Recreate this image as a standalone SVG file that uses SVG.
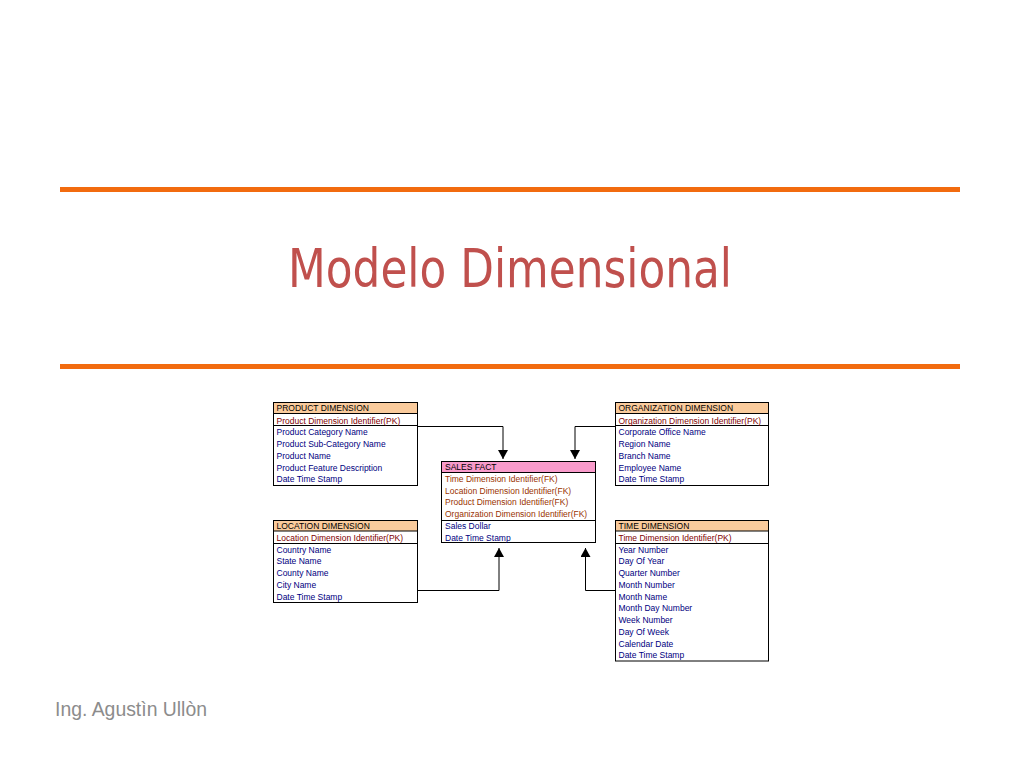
<svg xmlns="http://www.w3.org/2000/svg" width="1020" height="765" viewBox="0 0 1020 765">
<defs>
<style>
.t{font-family:"Liberation Sans",Arial,sans-serif;font-size:8.5px;}
.hd{fill:#000000;}
.pk{fill:#800000;}
.fk{fill:#993300;}
.at{fill:#000080;}
.box{fill:#ffffff;stroke:#000000;stroke-width:1;}
.oh{fill:#FACB9C;stroke:#000000;stroke-width:1;}
.ph{fill:#F99BCB;stroke:#000000;stroke-width:1;}
.sep{stroke:#000000;stroke-width:1;}
.con{fill:none;stroke:#000000;stroke-width:1;}
.rule{stroke:#F26B0F;stroke-width:5;}
</style>
<marker id="arr" markerWidth="10" markerHeight="10" refX="9" refY="5" orient="auto" markerUnits="userSpaceOnUse">
<path d="M0,0 L9,5 L0,10 Z" fill="#000000"/>
</marker>
</defs>
<rect width="1020" height="765" fill="#ffffff"/>
<line class="rule" x1="60" y1="189.5" x2="960" y2="189.5"/>
<line class="rule" x1="60" y1="366.5" x2="960" y2="366.5"/>
<text x="510" y="287" text-anchor="middle" font-family="'DejaVu Sans Condensed','DejaVu Sans',Verdana,sans-serif" font-size="53" fill="#C0504D" textLength="444" lengthAdjust="spacingAndGlyphs">Modelo Dimensional</text>
<text x="55" y="716" font-family="'Liberation Sans',Arial,sans-serif" font-size="19.4" fill="#8C8C8C">Ing. Agustìn Ullòn</text>

<g id="connectors">
<path class="con" d="M417.5,426.5 H503 V459" marker-end="url(#arr)"/>
<path class="con" d="M615.5,426.5 H575 V459" marker-end="url(#arr)"/>
<path class="con" d="M417.5,590.5 H499 V548" marker-end="url(#arr)"/>
<path class="con" d="M615.5,590.5 H585.5 V548" marker-end="url(#arr)"/>
</g>

<g id="product-dimension">
<rect class="box" x="273.5" y="402.5" width="144" height="83"/>
<rect class="oh" x="273.5" y="402.5" width="144" height="11"/>
<line class="sep" x1="273.5" y1="425.5" x2="417.5" y2="425.5"/>
<text class="t hd" x="276.5" y="411">PRODUCT DIMENSION</text>
<text class="t pk" x="276.5" y="423.5">Product Dimension Identifier(PK)</text>
<text class="t at" x="276.5" y="435">Product Category Name</text>
<text class="t at" x="276.5" y="447">Product Sub-Category Name</text>
<text class="t at" x="276.5" y="458.5">Product Name</text>
<text class="t at" x="276.5" y="470.5">Product Feature Description</text>
<text class="t at" x="276.5" y="482">Date Time Stamp</text>
</g>

<g id="organization-dimension">
<rect class="box" x="615.5" y="402.5" width="153" height="83"/>
<rect class="oh" x="615.5" y="402.5" width="153" height="11"/>
<line class="sep" x1="615.5" y1="425.5" x2="768.5" y2="425.5"/>
<text class="t hd" x="618.5" y="411">ORGANIZATION DIMENSION</text>
<text class="t pk" x="618.5" y="423.5">Organization Dimension Identifier(PK)</text>
<text class="t at" x="618.5" y="435">Corporate Office Name</text>
<text class="t at" x="618.5" y="447">Region Name</text>
<text class="t at" x="618.5" y="458.5">Branch Name</text>
<text class="t at" x="618.5" y="470.5">Employee Name</text>
<text class="t at" x="618.5" y="482">Date Time Stamp</text>
</g>

<g id="sales-fact">
<rect class="box" x="441.5" y="461.5" width="154" height="81"/>
<rect class="ph" x="441.5" y="461.5" width="154" height="11"/>
<line class="sep" x1="441.5" y1="520.5" x2="595.5" y2="520.5"/>
<text class="t hd" x="445" y="470">SALES FACT</text>
<text class="t fk" x="445" y="482">Time Dimension Identifier(FK)</text>
<text class="t fk" x="445" y="493.5">Location Dimension Identifier(FK)</text>
<text class="t fk" x="445" y="505">Product Dimension Identifier(FK)</text>
<text class="t fk" x="445" y="517">Organization Dimension Identifier(FK)</text>
<text class="t at" x="445" y="529">Sales Dollar</text>
<text class="t at" x="445" y="540.5">Date Time Stamp</text>
</g>

<g id="location-dimension">
<rect class="box" x="273.5" y="520.5" width="144" height="82"/>
<rect class="oh" x="273.5" y="520.5" width="144" height="10.5"/>
<line class="sep" x1="273.5" y1="543.5" x2="417.5" y2="543.5"/>
<text class="t hd" x="276.5" y="529">LOCATION DIMENSION</text>
<text class="t pk" x="276.5" y="541">Location Dimension Identifier(PK)</text>
<text class="t at" x="276.5" y="552.5">Country Name</text>
<text class="t at" x="276.5" y="564">State Name</text>
<text class="t at" x="276.5" y="576">County Name</text>
<text class="t at" x="276.5" y="588">City Name</text>
<text class="t at" x="276.5" y="599.5">Date Time Stamp</text>
</g>

<g id="time-dimension">
<rect class="box" x="615.5" y="520.5" width="153" height="140.5"/>
<rect class="oh" x="615.5" y="520.5" width="153" height="10.5"/>
<line class="sep" x1="615.5" y1="543.5" x2="768.5" y2="543.5"/>
<text class="t hd" x="618.5" y="529">TIME DIMENSION</text>
<text class="t pk" x="618.5" y="541">Time Dimension Identifier(PK)</text>
<text class="t at" x="618.5" y="552.5">Year Number</text>
<text class="t at" x="618.5" y="564">Day Of Year</text>
<text class="t at" x="618.5" y="576">Quarter Number</text>
<text class="t at" x="618.5" y="588">Month Number</text>
<text class="t at" x="618.5" y="599.5">Month Name</text>
<text class="t at" x="618.5" y="611">Month Day Number</text>
<text class="t at" x="618.5" y="623">Week Number</text>
<text class="t at" x="618.5" y="635">Day Of Week</text>
<text class="t at" x="618.5" y="646.5">Calendar Date</text>
<text class="t at" x="618.5" y="658">Date Time Stamp</text>
</g>
</svg>
